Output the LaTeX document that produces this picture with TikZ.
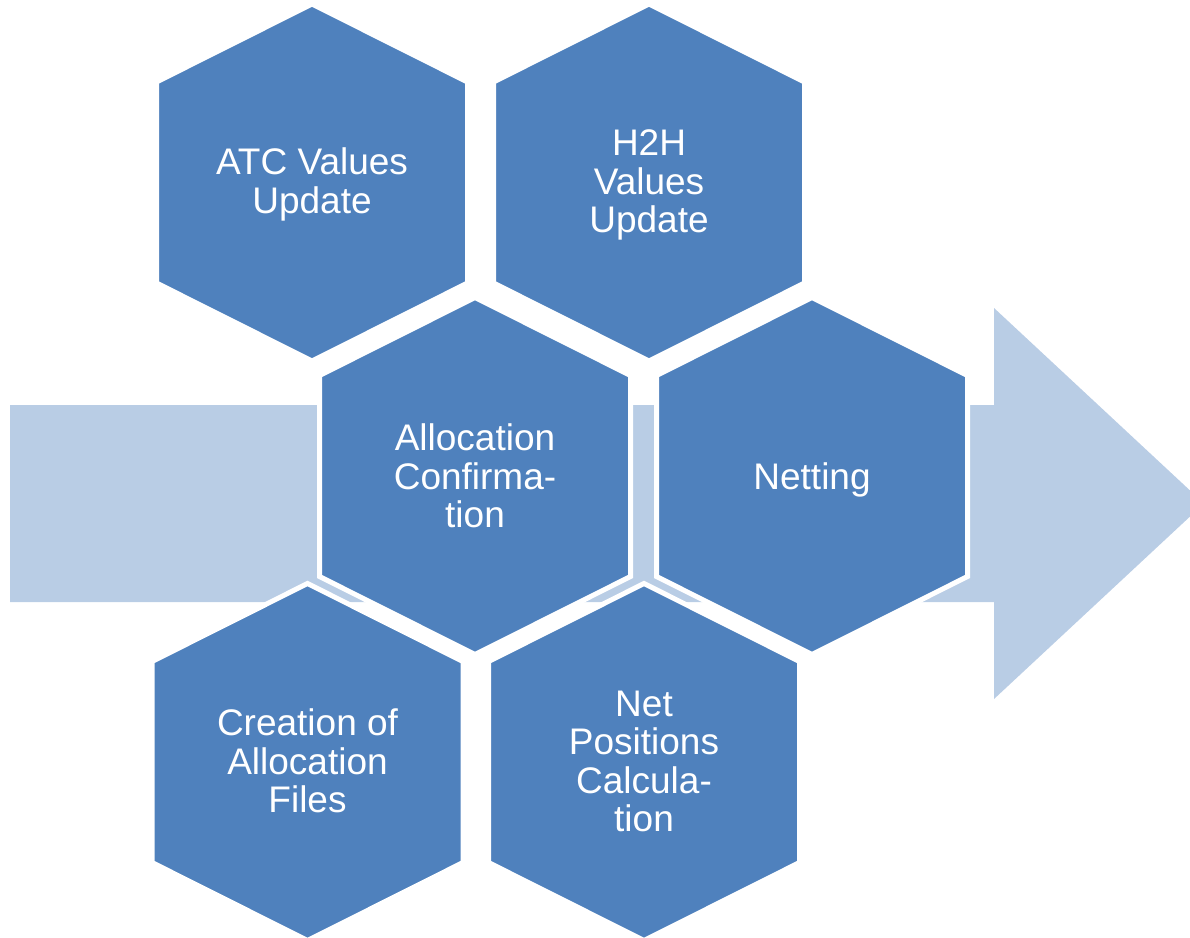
\documentclass[tikz,border=0pt]{standalone}
\usepackage{fontspec}
\setmainfont{Liberation Sans}
\definecolor{hexblue}{HTML}{4F81BD}
\definecolor{arrowblue}{HTML}{B9CDE5}
\newcommand\drawhex[2]{\path[hexcell] (#1,#2) ++(0,-178.5) -- ++(155.5,78) -- ++(0,201) -- ++(-155.5,78) -- ++(-155.5,-78) -- ++(0,-201) -- cycle;}
\begin{document}
\begin{tikzpicture}[x=1pt,y=-1pt,
  hexcell/.style={fill=hexblue,draw=white,line width=5pt,line join=miter},
  hexlabel/.style={text=white,align=center,font=\fontsize{37}{38.5}\selectfont,inner sep=0pt}]
\useasboundingbox (0,0) rectangle (1190,937);
\clip (0,0) rectangle (1190,937);
% big arrow
\fill[arrowblue] (10,405) -- (994,405) -- (994,308) -- (1204,503.5) -- (994,699) -- (994,602) -- (10,602) -- cycle;
% hexagons
\drawhex{312}{182.5}
\drawhex{649}{182.5}
\drawhex{475}{476}
\drawhex{812}{476}
\drawhex{307.5}{762}
\drawhex{644}{762}
% labels
\node[hexlabel] (atc) at (312,184.5) {ATC Values\\Update};
\node[hexlabel] (h2h) at (649,185) {H2H\\Values\\Update};
\node[hexlabel] (alloc) at (475,476) {Allocation\\Confirma-\\tion};
\node[hexlabel] (net) at (812,480) {Netting};
\node[hexlabel] (files) at (307.5,761) {Creation of\\Allocation\\Files};
\node[hexlabel] (npos) at (644,761.5) {Net\\Positions\\Calcula-\\tion};
\end{tikzpicture}
\end{document}
